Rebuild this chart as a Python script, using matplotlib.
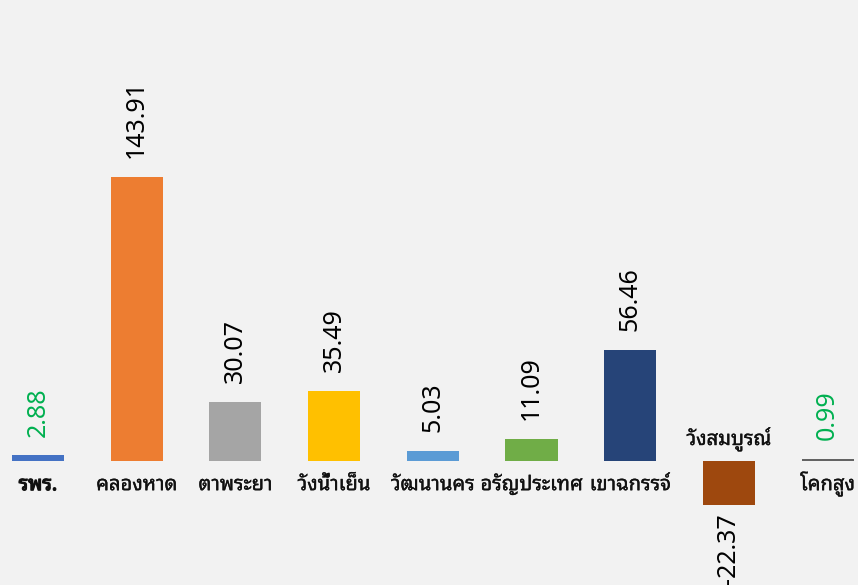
import matplotlib
matplotlib.use("Agg")
import matplotlib.pyplot as plt
import matplotlib.patheffects as pe

categories = ["รพร.", "คลองหาด", "ตาพระยา", "วังน้ำเย็น", "วัฒนานคร",
              "อรัญประเทศ", "เขาฉกรรจ์", "วังสมบูรณ์", "โคกสูง"]
values = [2.88, 143.91, 30.07, 35.49, 5.03, 11.09, 56.46, -22.37, 0.99]
value_labels = ["2.88", "143.91", "30.07", "35.49", "5.03", "11.09", "56.46", "-22.37", "0.99"]
bar_colors = ["#4472C4", "#ED7D31", "#A5A5A5", "#FFC000", "#5B9BD5",
              "#70AD47", "#264478", "#9E480E", "#636363"]
label_colors = ["#00B050", "black", "black", "black", "black",
                "black", "black", "black", "#00B050"]

BG = "#F2F2F2"
TXT = "#111111"
thai = ["Noto Sans Thai Looped", "Noto Sans"]
num = ["Noto Sans", "DejaVu Sans"]

fig = plt.figure(figsize=(8.58, 5.85), dpi=100, facecolor=BG)
ax = fig.add_axes([0, 0, 1, 1])
ax.set_facecolor(BG)

x = list(range(len(categories)))
bars = ax.bar(x, values, width=0.527, color=bar_colors)

ax.set_xlim(-0.385, 8.308)
ax.set_ylim(-62.85, 233.65)
ax.axis("off")

thin = [pe.withStroke(linewidth=0.25, foreground=TXT)]
thick = [pe.withStroke(linewidth=0.9, foreground=TXT)]

for i, (v, lab, col) in enumerate(zip(values, value_labels, label_colors)):
    if v >= 0:
        ax.annotate(lab, (i, v), xytext=(0, 13.5), textcoords="offset points",
                    rotation=90, ha="center", va="bottom", fontsize=18,
                    family=num, color=col)
        ax.annotate(categories[i], (i, 0), xytext=(0, -21), textcoords="offset points",
                    ha="center", va="baseline", fontsize=14.5, family=thai,
                    color=TXT, path_effects=thick if i == 0 else thin)
    else:
        ax.annotate(lab, (i, v), xytext=(0, -6), textcoords="offset points",
                    rotation=90, ha="center", va="top", fontsize=18,
                    family=num, color=col)
        ax.annotate(categories[i], (i, 0), xytext=(0, 11.5), textcoords="offset points",
                    ha="center", va="baseline", fontsize=14.5, family=thai,
                    color=TXT, path_effects=thin)

fig.savefig("out.png", dpi=100, facecolor=BG)
